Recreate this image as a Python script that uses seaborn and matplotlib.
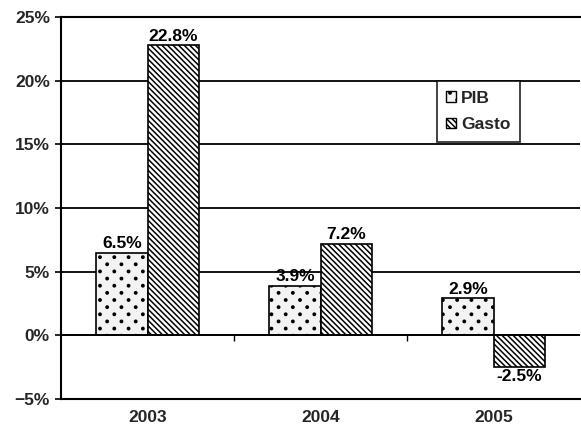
import matplotlib
matplotlib.use("Agg")
import numpy as np
import matplotlib.pyplot as plt
import matplotlib.hatch as mhatch
from matplotlib.patches import Patch
from matplotlib.ticker import PercentFormatter, MultipleLocator
import seaborn as sns
import pandas as pd

# Data (annual growth, %)
years = ["2003", "2004", "2005"]
series = ["PIB", "Gasto"]
pib = [6.5, 3.9, 2.9]
gasto = [22.8, 7.2, -2.5]

df = pd.DataFrame({
    "year": years * 2,
    "serie": [series[0]] * 3 + [series[1]] * 3,
    "value": pib + gasto,
})


class StaggeredDots(mhatch.Circles):
    """Small filled dots, rows twice as dense as columns, staggered."""
    size = 0.08
    filled = True

    def __init__(self, hatch, density):
        self.num_cols = int(hatch.count('.') * density) + 1 if '.' in hatch else 0
        self.num_rows = self.num_cols * 2
        if self.num_cols:
            n_even = self.num_rows // 2 + 1
            n_odd = self.num_rows // 2
            self.num_shapes = n_even * (self.num_cols + 1) + n_odd * self.num_cols
        else:
            self.num_shapes = 0
        path = matplotlib.path.Path.unit_circle()
        self.shape_vertices = path.vertices
        self.shape_codes = path.codes
        self.num_vertices = self.num_shapes * len(self.shape_vertices)

    def set_vertices_and_codes(self, vertices, codes):
        col_step = 1.0 / self.num_cols
        row_step = 1.0 / self.num_rows
        shape_vertices = self.shape_vertices * col_step * self.size
        n = len(shape_vertices)
        cursor = 0
        for row in range(self.num_rows + 1):
            if row % 2 == 0:
                cols = np.linspace(0, 1, self.num_cols + 1)
            else:
                cols = np.linspace(col_step / 2, 1 - col_step / 2, self.num_cols)
            y = row * row_step
            for x in cols:
                vertices[cursor:cursor + n] = shape_vertices + (x, y)
                codes[cursor:cursor + n] = self.shape_codes
                cursor += n


mhatch._hatch_types = [StaggeredDots if t is mhatch.SmallFilledCircles else t
                       for t in mhatch._hatch_types]

sns.set_theme(style="white")
plt.rcParams["font.family"] = ["Liberation Sans", "DejaVu Sans"]
plt.rcParams["font.weight"] = "bold"
plt.rcParams["hatch.linewidth"] = 1.1

FS = 12.5
fills = {"PIB": "#f3f3f3", "Gasto": "#ffffff"}
hatches = {"PIB": ".", "Gasto": "\\\\\\\\\\\\"}

fig = plt.figure(figsize=(5.81, 4.34), dpi=100)
ax = fig.add_axes([0.105, 0.0806, 0.8933, 0.8802])

sns.barplot(data=df, x="year", y="value", hue="serie", order=years,
            hue_order=series, palette=fills, width=0.59, dodge=True,
            edgecolor="black", linewidth=1.2, legend=False, ax=ax)

for name, cont in zip(series, ax.containers):
    for bar in cont:
        bar.set_hatch(hatches[name])
        bar.set_edgecolor("black")
    vals = pib if name == "PIB" else gasto
    ax.bar_label(cont, labels=[f"{v:.1f}%" for v in vals], padding=1,
                 fontsize=FS, fontweight="bold", color="black")

ax.set_xlim(-0.5, len(years) - 0.5)
ax.set_ylim(-5, 25)
ax.yaxis.set_major_locator(MultipleLocator(5))
ax.yaxis.set_major_formatter(PercentFormatter(decimals=0))
ax.grid(axis="y", color="black", linewidth=1.3)
ax.set_axisbelow(True)

# zero line with separators between years
ax.axhline(0, color="black", linewidth=1.3, zorder=1)
ax.vlines([0.5, 1.5], -0.45, 0, color="black", linewidth=1.0)

for side in ["left", "bottom", "top"]:
    ax.spines[side].set_visible(True)
    ax.spines[side].set_color("black")
    ax.spines[side].set_linewidth(1.5)
ax.spines["right"].set_visible(False)

ax.tick_params(axis="y", length=4, width=1.2, color="black", pad=4,
               labelsize=FS, left=True)
ax.tick_params(axis="x", length=0, pad=8, labelsize=FS)
for lbl in ax.get_xticklabels() + ax.get_yticklabels():
    lbl.set_fontweight("bold")
ax.set_xlabel("")
ax.set_ylabel("")

handles = [Patch(facecolor=fills[s], edgecolor="black", hatch=hatches[s],
                 label=s) for s in series]
leg = ax.legend(handles=handles, loc="upper left",
                bbox_to_anchor=(0.724, 0.832), frameon=True, fancybox=False,
                handlelength=0.55, handleheight=0.55, handletextpad=0.3,
                labelspacing=0.65, borderpad=0.55, borderaxespad=0,
                prop={"size": FS, "weight": "bold"})
leg.get_frame().set_edgecolor("black")
leg.get_frame().set_linewidth(1.3)

fig.savefig("out.png", dpi=100)
